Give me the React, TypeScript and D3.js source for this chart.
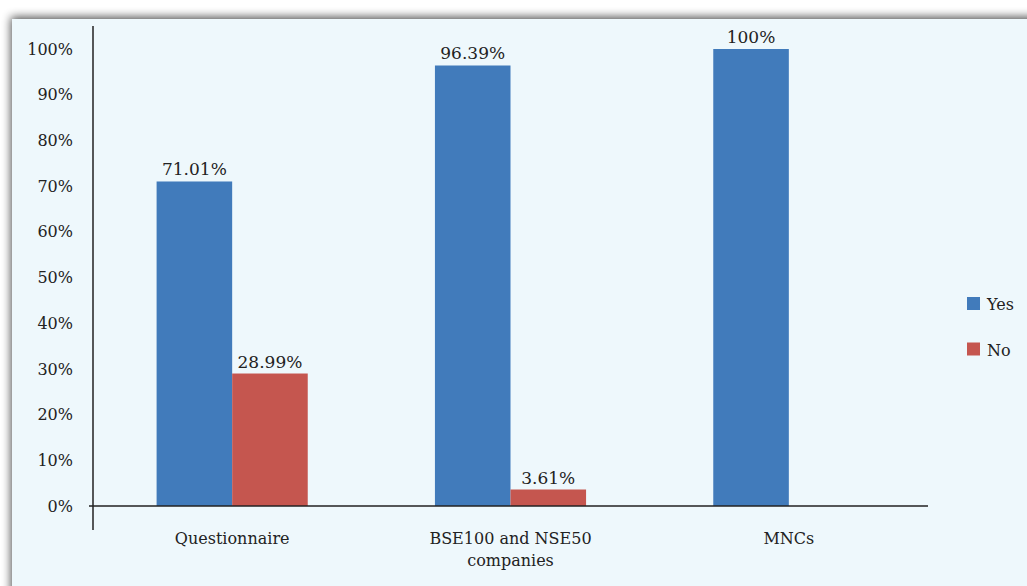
import * as d3 from 'd3';

const categories = ['Questionnaire', 'BSE100 and NSE50 companies', 'MNCs'];
const series = ['Yes', 'No'];
const yesValues = [71.01, 96.39, 100];
const noValues = [28.99, 3.61, 0];
const yTicks = [0, 10, 20, 30, 40, 50, 60, 70, 80, 90, 100];

const colors: Record<string, string> = { Yes: '#417bbb', No: '#c5564f' };

const W = 1027;
const H = 586;
const plot = { left: 93, right: 928, top: 49, bottom: 506 };
const font = "'DejaVu Serif', serif";
const ink = '#222';

export default function App() {
  const x = d3.scaleBand<string>().domain(categories).range([plot.left, plot.right]).paddingInner(0.457).paddingOuter(0.2285);
  const x1 = d3.scaleBand<string>().domain(series).range([0, x.bandwidth()]);
  const y = d3.scaleLinear().domain([0, 100]).range([plot.bottom, plot.top]);

  const rows = categories.map((c, i) => ({ c, Yes: yesValues[i], No: noValues[i] }));

  return (
    <div style={{ position: 'fixed', left: 0, top: 0 }}>
      <svg width={W} height={H} style={{ display: 'block', background: '#fff' }}>
        <defs>
          <filter id="sh" x="-5%" y="-5%" width="110%" height="110%">
            <feGaussianBlur in="SourceAlpha" stdDeviation="5" />
            <feOffset dx="-1" dy="-2" result="b" />
            <feComponentTransfer>
              <feFuncA type="linear" slope="0.7" />
            </feComponentTransfer>
            <feMerge>
              <feMergeNode />
              <feMergeNode in="SourceGraphic" />
            </feMerge>
          </filter>
        </defs>
        <rect x={12} y={19} width={W + 40} height={H + 40} fill="#eef8fc" filter="url(#sh)" />

        {/* bars */}
        {rows.map((r) =>
          series.map((s) => {
            const v = (r as any)[s] as number;
            if (!v) return null;
            const bx = (x(r.c) ?? 0) + (x1(s) ?? 0);
            return (
              <g key={r.c + s}>
                <rect x={bx} y={y(v)} width={x1.bandwidth()} height={plot.bottom - y(v)} fill={colors[s]} />
                <text x={bx + x1.bandwidth() / 2} y={y(v) - 6} textAnchor="middle" fontFamily={font} fontSize={17} fill={ink}>
                  {`${v}%`}
                </text>
              </g>
            );
          })
        )}

        {/* axes */}
        <line x1={plot.left} x2={plot.left} y1={26} y2={530} stroke={ink} strokeWidth={1.5} />
        <line x1={plot.left - 4} x2={plot.right} y1={plot.bottom} y2={plot.bottom} stroke={ink} strokeWidth={1.5} />
        {yTicks.map((t) => (
          <text key={t} x={73} y={y(t)} dy="0.35em" textAnchor="end" fontFamily={font} fontSize={16} fill={ink}>
            {`${t}%`}
          </text>
        ))}

        {/* category labels */}
        {categories.map((c) => {
          const cx = (x(c) ?? 0) + x.bandwidth() / 2;
          const lines = c === 'BSE100 and NSE50 companies' ? ['BSE100 and NSE50', 'companies'] : [c];
          return (
            <text key={c} x={cx} y={544} textAnchor="middle" fontFamily={font} fontSize={16} fill={ink}>
              {lines.map((l, i) => (
                <tspan key={i} x={cx} dy={i === 0 ? 0 : 22}>{l}</tspan>
              ))}
            </text>
          );
        })}

        {/* legend */}
        {series.map((s, i) => (
          <g key={s} transform={`translate(967, ${297 + i * 45.5})`}>
            <rect width={13} height={13} fill={colors[s]} />
            <text x={20} y={13} fontFamily={font} fontSize={16} fill={ink}>{s}</text>
          </g>
        ))}
      </svg>
    </div>
  );
}
